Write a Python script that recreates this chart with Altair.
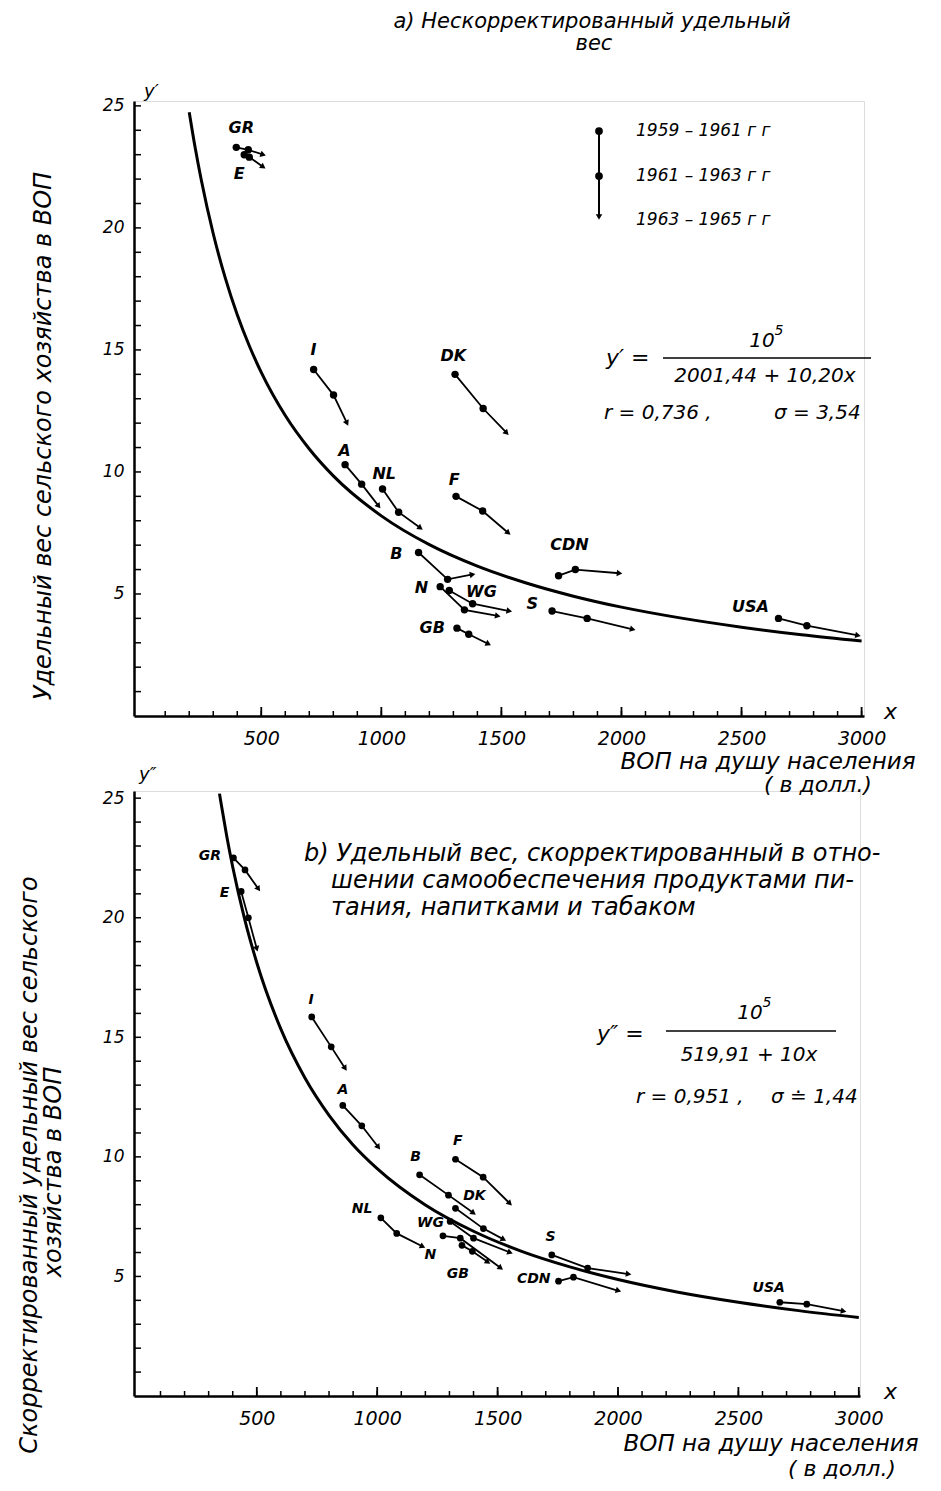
import math
import altair as alt
import pandas as pd

FONT = "DejaVu Sans"

# ---------------- panel a (uncorrected share) ----------------
a_countries = ["GR", "E", "I", "DK", "A", "NL", "F", "B", "N", "WG", "GB", "S", "CDN", "USA"]
a_x1 = [396, 429, 718, 1307, 849, 1005, 1311, 1155, 1245, 1283, 1315, 1711, 1738, 2654]
a_y1 = [23.3, 23.0, 14.2, 14.0, 10.3, 9.3, 9.0, 6.7, 5.3, 5.14, 3.6, 4.3, 5.75, 4.0]
a_x2 = [446, 450, 801, 1424, 918, 1072, 1422, 1276, 1346, 1380, 1364, 1857, 1808, 2772]
a_y2 = [23.2, 22.9, 13.15, 12.6, 9.5, 8.35, 8.4, 5.6, 4.35, 4.6, 3.35, 4.0, 6.0, 3.7]
a_x3 = [508, 508, 857, 1522, 989, 1163, 1529, 1380, 1485, 1533, 1446, 2047, 1992, 2985]
a_y3 = [23.0, 22.5, 12.0, 11.6, 8.6, 7.7, 7.5, 5.8, 4.1, 4.3, 2.95, 3.55, 5.85, 3.3]
a_lab_x = [417, 408, 717, 1300, 846, 1012, 1304, 1062, 1167, 1417, 1212, 1629, 1783, 2537]
a_lab_y = [24.1, 22.2, 15.0, 14.75, 10.85, 9.9, 9.65, 6.65, 5.25, 5.1, 3.6, 4.6, 7.0, 4.47]

a_curve_x = [200, 225, 250, 300, 350, 400, 450, 500, 600, 700, 800, 1000, 1200, 1400, 1600,
             1800, 2000, 2250, 2500, 2750, 3000]
a_curve_y = [24.74, 23.27, 21.97, 19.76, 17.95, 16.44, 15.17, 14.08, 12.31, 10.94, 9.84, 8.20,
             7.02, 6.14, 5.46, 4.91, 4.46, 4.01, 3.64, 3.33, 3.07]

# ---------------- panel b (corrected share) ----------------
b_countries = ["GR", "E", "I", "A", "B", "F", "DK", "WG", "NL", "N", "GB", "S", "CDN", "USA"]
b_x1 = [403, 435, 728, 857, 1176, 1325, 1325, 1303, 1015, 1273, 1352, 1725, 1753, 2672]
b_y1 = [22.5, 21.1, 15.85, 12.15, 9.25, 9.9, 7.85, 7.3, 7.45, 6.7, 6.3, 5.9, 4.8, 3.92]
b_x2 = [451, 465, 809, 936, 1296, 1440, 1441, 1400, 1081, 1345, 1395, 1874, 1815, 2784]
b_y2 = [22.0, 20.0, 14.6, 11.3, 8.4, 9.15, 7.0, 6.6, 6.8, 6.6, 6.05, 5.35, 4.97, 3.84]
b_x3 = [507, 500, 867, 1005, 1400, 1551, 1525, 1552, 1189, 1513, 1460, 2044, 2002, 2937]
b_y3 = [21.2, 18.7, 13.7, 10.4, 7.65, 8.05, 6.55, 6.0, 6.25, 5.35, 5.6, 5.1, 4.4, 3.55]
b_lab_x = [305, 366, 726, 858, 1159, 1335, 1404, 1221, 937, 1221, 1335, 1720, 1650, 2626]
b_lab_y = [22.57, 21.04, 16.58, 12.81, 9.98, 10.65, 8.35, 7.23, 7.83, 5.91, 5.1, 6.67, 4.9, 4.51]

b_curve_x = [345, 350, 375, 400, 450, 500, 600, 700, 800, 900, 1000, 1200, 1400, 1600, 1800,
             2000, 2250, 2500, 2750, 3000]
b_curve_y = [25.19, 24.88, 23.42, 22.12, 19.92, 18.12, 15.34, 13.30, 11.74, 10.50, 9.51, 7.99,
             6.89, 6.05, 5.40, 4.87, 4.34, 3.92, 3.57, 3.28]

x_tick_labels = [500, 1000, 1500, 2000, 2500, 3000]
y_tick_labels = [5, 10, 15, 20, 25]
x_minor = list(range(100, 3001, 100))
y_minor = list(range(1, 26))

one = pd.DataFrame({"k": [0]})


def txt(s, x, y, size=18, align="left", angle=0, weight="normal", style="italic"):
    return alt.Chart(one).mark_text(
        text=s, fontSize=size, align=align, angle=angle, fontWeight=weight,
        fontStyle=style, font=FONT, baseline="middle", color="black"
    ).encode(x=alt.value(x), y=alt.value(y))


def hline(x1, x2, y, w=1.6):
    return alt.Chart(one).mark_rule(strokeWidth=w, color="black").encode(
        x=alt.value(x1), x2=alt.value(x2), y=alt.value(y))


def panel(countries, x1, y1, x2, y2, x3, y3, lab_x, lab_y, cx, cy,
          xdom, ydom, W, H, lab_size, dot_size, extra):
    sx = W / (xdom[1] - xdom[0])
    sy = H / (ydom[1] - ydom[0])
    rows = []
    for i, c in enumerate(countries):
        rows.append({"c": c, "o": 1, "x": x1[i], "y": y1[i]})
        rows.append({"c": c, "o": 2, "x": x2[i], "y": y2[i]})
        rows.append({"c": c, "o": 3, "x": x3[i], "y": y3[i]})
    traj = pd.DataFrame(rows)
    dots = traj[traj.o < 3]
    heads = pd.DataFrame({
        "x": x3, "y": y3,
        "ang": [(math.degrees(math.atan2((x3[i] - x2[i]) * sx, (y3[i] - y2[i]) * sy)) + 360) % 360
                for i in range(len(countries))],
    })
    labels = pd.DataFrame({"x": lab_x, "y": lab_y, "t": countries})
    curve = pd.DataFrame({"x": cx, "y": cy})

    axx = alt.Axis(values=x_tick_labels, ticks=False, grid=False, domainWidth=2.5,
                   domainColor="black", labelFont=FONT, labelFontStyle="italic",
                   labelFontSize=19, labelColor="black", labelPadding=13,
                   labelFlush=False, labelOverlap=False, title=None, format="d")
    axy = alt.Axis(values=y_tick_labels, ticks=False, grid=False, domainWidth=2.5,
                   domainColor="black", labelFont=FONT, labelFontStyle="italic",
                   labelFontSize=17, labelColor="black", labelPadding=10,
                   labelOverlap=False, title=None)
    X = alt.X("x:Q", scale=alt.Scale(domain=xdom, nice=False, zero=False), axis=axx)
    Y = alt.Y("y:Q", scale=alt.Scale(domain=ydom, nice=False, zero=False), axis=axy)

    xt = pd.DataFrame({"x": x_minor})
    xtm = pd.DataFrame({"x": x_tick_labels})
    yt = pd.DataFrame({"y": y_minor})

    layers = [
        alt.Chart(curve).mark_line(color="black", strokeWidth=3, interpolate="monotone").encode(x=X, y=Y),
        alt.Chart(xt).mark_rule(color="black", strokeWidth=1.5).encode(x=X, y=alt.value(H), y2=alt.value(H - 5)),
        alt.Chart(xtm).mark_rule(color="black", strokeWidth=1.8).encode(x=X, y=alt.value(H), y2=alt.value(H - 9)),
        alt.Chart(yt).mark_rule(color="black", strokeWidth=1.5).encode(y=Y, x=alt.value(0), x2=alt.value(7)),
        alt.Chart(traj).mark_line(color="black", strokeWidth=1.8).encode(
            x=X, y=Y, detail="c:N", order="o:Q"),
        alt.Chart(dots).mark_circle(color="black", opacity=1, size=dot_size).encode(x=X, y=Y),
        alt.Chart(heads).mark_point(shape="triangle-up", filled=True, color="black", opacity=1, size=42).encode(
            x=X, y=Y, angle=alt.Angle("ang:Q", scale=None)),
        alt.Chart(labels).mark_text(font=FONT, fontStyle="italic", fontWeight="bold",
                                    fontSize=lab_size, color="black").encode(x=X, y=Y, text="t:N"),
    ]
    return alt.layer(*(layers + extra)).properties(width=W, height=H)


# ---- top panel decorations (pixel offsets from plot origin) ----
WA, HA = 730, 615
top_extra = [
    txt("а) Нескорректированный удельный", 458, -79.5, size=21, align="center"),
    txt("вес", 460, -57, size=21, align="center"),
    txt("y′", 10, -9, size=18),
    alt.Chart(one).mark_rule(color="black", strokeWidth=2).encode(
        x=alt.value(465), y=alt.value(30), y2=alt.value(114)),
    alt.Chart(one).mark_circle(color="black", opacity=1, size=60).encode(x=alt.value(465), y=alt.value(30)),
    alt.Chart(one).mark_circle(color="black", opacity=1, size=60).encode(x=alt.value(465), y=alt.value(75)),
    alt.Chart(one).mark_point(shape="triangle-down", filled=True, color="black", opacity=1, size=42).encode(
        x=alt.value(465), y=alt.value(116)),
    txt("1959 – 1961 г г", 502, 30, size=17),
    txt("1961 – 1963 г г", 502, 75, size=17),
    txt("1963 – 1965 г г", 502, 119, size=17),
    txt("y′  =", 472, 257, size=22),
    hline(529, 737, 257),
    txt("10", 628, 240, size=20, align="center"),
    txt("5", 645, 230, size=14, align="center"),
    txt("2001,44 + 10,20x", 631, 275, size=20, align="center"),
    txt("r = 0,736 ,", 470, 312, size=20),
    txt("σ = 3,54", 640, 312, size=20),
    txt("x", 750, 611, size=22),
    txt("ВОП на душу населения", 634, 661, size=23, align="center"),
    txt("Удельный вес сельского хозяйства в ВОП", -90, 335, size=24, align="center", angle=270),
]

WB, HB = 726, 605
bot_extra = [
    # second line of the upper panel's x-axis title, placed just above the lower plot
    txt("( в  долл.)", 684, -6, size=22, align="center"),
    txt("y″", 5, -16, size=18),
    txt("b) Удельный вес, скорректированный в отно-", 170, 63, size=24),
    txt("шении самообеспечения продуктами пи-", 197, 90, size=24),
    txt("тания, напитками и табаком", 197, 117, size=24),
    txt("y″  =", 463, 243, size=22),
    hline(532, 702, 240),
    txt("10", 616, 222, size=20, align="center"),
    txt("5", 633, 212, size=14, align="center"),
    txt("519,91 + 10x", 615, 264, size=20, align="center"),
    txt("r = 0,951 ,", 502, 306, size=20),
    txt("σ ≐ 1,44", 637, 306, size=20),
    txt("x", 750, 601, size=22),
    txt("ВОП на душу населения", 637, 653, size=23, align="center"),
    txt("( в  долл.)", 708, 678, size=22, align="center"),
    txt("Скорректированный  удельный вес  сельского", -104, 374, size=24, align="center", angle=270),
    txt("хозяйства  в  ВОП", -80, 381, size=24, align="center", angle=270),
]

top = panel(a_countries, a_x1, a_y1, a_x2, a_y2, a_x3, a_y3, a_lab_x, a_lab_y,
            a_curve_x, a_curve_y, [-30, 3010], [0, 25.2], WA, HA, 16, 55, top_extra)
bottom = panel(b_countries, b_x1, b_y1, b_x2, b_y2, b_x3, b_y3, b_lab_x, b_lab_y,
               b_curve_x, b_curve_y, [-10, 3005], [0, 25.3], WB, HB, 14, 45, bot_extra)

chart = alt.vconcat(top, bottom, spacing=75, bounds="flush").properties(
    padding={"left": 9, "top": 2, "right": 5, "bottom": 5}
).configure_view(strokeWidth=0, fill="transparent").configure(background="white")

chart.save("out.html", embed_options={"renderer": "svg", "actions": False})
